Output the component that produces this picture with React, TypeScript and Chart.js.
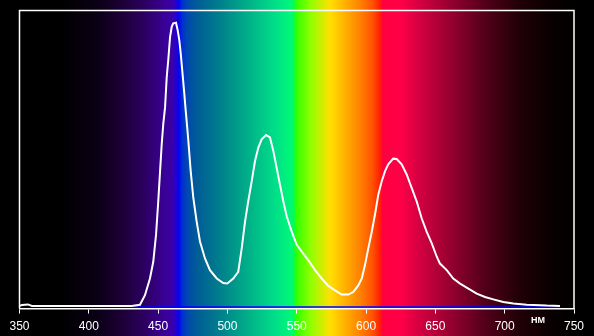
import React, { useEffect, useRef } from "react";
import { Chart, registerables } from "chart.js";

Chart.register(...registerables);

// Wavelength (nm) and relative intensity of the white spectral curve
const WAVELENGTHS = [
  350, 351.8, 356.1, 359, 430.9, 436.9, 440.5, 444.1, 446.5, 448.5, 450.1, 451.4, 452.6, 453.7, 455.0,
  456.2, 457.3, 458.6, 459.8, 460.9, 462.9, 464.1, 465.3, 466.3, 467.4, 468.7, 469.9, 471.0, 471.8,
  473.5, 475.4, 477.8, 480.2, 483.8, 487.4, 492.3, 497.0, 499.9, 504.2, 507.8, 510.3, 512.7, 515.0,
  517.5, 519.9, 522.3, 524.7, 527.8, 530.7, 533.1, 535.5, 537.9, 540.3, 542.8, 546.4, 550.0, 553.6,
  558.3, 563.2, 568.0, 572.8, 577.6, 582.4, 587.2, 590.8, 594.4, 596.9, 599.2, 601.6, 604.1, 606.4,
  608.8, 611.3, 613.7, 616.0, 619.6, 622.1, 625.7, 629.3, 632.9, 636.5, 640.1, 643.7, 647.4, 651.0,
  653.3, 658.2, 662.9, 667.8, 673.8, 679.8, 685.8, 691.8, 699.0, 706.2, 715.9, 730.3, 739.9,
];
const INTENSITY = [
  0.009, 0.012, 0.014, 0.009, 0.009, 0.013, 0.045, 0.101, 0.157, 0.248, 0.36, 0.461, 0.552, 0.619, 0.675,
  0.776, 0.833, 0.911, 0.945, 0.957, 0.959, 0.934, 0.9, 0.856, 0.799, 0.731, 0.664, 0.607, 0.563,
  0.461, 0.371, 0.292, 0.225, 0.168, 0.129, 0.101, 0.086, 0.084, 0.101, 0.123, 0.202, 0.292, 0.36,
  0.427, 0.495, 0.54, 0.568, 0.582, 0.574, 0.529, 0.472, 0.416, 0.36, 0.309, 0.258, 0.214, 0.191,
  0.163, 0.129, 0.101, 0.076, 0.061, 0.047, 0.047, 0.056, 0.078, 0.101, 0.146, 0.202, 0.258, 0.315,
  0.382, 0.427, 0.461, 0.484, 0.503, 0.502, 0.484, 0.45, 0.405, 0.36, 0.303, 0.258, 0.219, 0.174,
  0.151, 0.129, 0.101, 0.084, 0.067, 0.05, 0.039, 0.031, 0.022, 0.017, 0.013, 0.01, 0.009,
];

// Blue baseline series
const BASELINE_NM = [433, 740];
const BASELINE_VALUES = [0.005, 0.005];

// Axis
const X_MIN = 350;
const X_MAX = 750;
const X_STEP = 50;
const UNIT_LABEL = "НМ";
const UNIT_LABEL_NM = 724;

// Background spectrum (wavelength -> colour)
const SPECTRUM_NM = [
  336, 380, 405, 425, 440, 452, 460, 463.5, 465, 467.5, 471, 477, 495, 515, 535, 546, 548, 549.5, 560,
  574, 585, 596, 605, 610, 612, 625, 640, 663, 687, 711, 735, 755,
];
const SPECTRUM_COLORS = [
  "#000000", "#000000", "#0a0014", "#1e0038", "#2c0060", "#38008c", "#3c00a8", "#2000d8", "#0008f0",
  "#0030d0", "#0048b0", "#005a98", "#00808c", "#00b088", "#00e088", "#00f878", "#00ff50", "#30ff00",
  "#90ff00", "#ffe000", "#ffb000", "#ff8000", "#ff5000", "#ff2000", "#ff0040", "#ff0048", "#d00040",
  "#900030", "#500018", "#200008", "#080000", "#000000",
];

const spectrumPlugin = {
  id: "spectrumBg",
  beforeDraw(chart: any) {
    const { ctx, width, height } = chart;
    const xs = chart.scales.x;
    const g = ctx.createLinearGradient(0, 0, width, 0);
    SPECTRUM_NM.forEach((nm, i) => {
      const f = Math.min(1, Math.max(0, xs.getPixelForValue(nm) / width));
      g.addColorStop(f, SPECTRUM_COLORS[i]);
    });
    ctx.save();
    ctx.fillStyle = g;
    ctx.fillRect(0, 0, width, height);
    ctx.restore();
  },
  afterDraw(chart: any) {
    const { ctx, chartArea } = chart;
    const xs = chart.scales.x;
    ctx.save();
    ctx.strokeStyle = "#ffffff";
    ctx.lineWidth = 1.5;
    ctx.beginPath();
    ctx.moveTo(chartArea.left, chartArea.bottom);
    ctx.lineTo(chartArea.left, chartArea.top);
    ctx.lineTo(chartArea.right, chartArea.top);
    ctx.lineTo(chartArea.right, chartArea.bottom);
    ctx.stroke();
    ctx.fillStyle = "#ffffff";
    ctx.font = "bold 9px 'Liberation Sans', Arial, sans-serif";
    ctx.textAlign = "center";
    ctx.textBaseline = "alphabetic";
    ctx.fillText(UNIT_LABEL, xs.getPixelForValue(UNIT_LABEL_NM), 322.5);
    ctx.restore();
  },
};

export default function App() {
  const ref = useRef<HTMLCanvasElement>(null);
  useEffect(() => {
    if (!ref.current) return;
    const chart = new Chart(ref.current, {
      type: "line",
      data: {
        datasets: [
          {
            data: WAVELENGTHS.map((x, i) => ({ x, y: INTENSITY[i] })),
            borderColor: "#ffffff",
            borderWidth: 2,
            pointRadius: 0,
            tension: 0,
            fill: false,
          },
          {
            data: BASELINE_NM.map((x, i) => ({ x, y: BASELINE_VALUES[i] })),
            borderColor: "#0000ff",
            borderWidth: 1.5,
            pointRadius: 0,
            fill: false,
          },
        ],
      },
      options: {
        animation: false,
        responsive: false,
        maintainAspectRatio: false,
        layout: { padding: { left: 19.5, right: 20, top: 10.5, bottom: -4 } },
        plugins: { legend: { display: false }, tooltip: { enabled: false } },
        scales: {
          x: {
            type: "linear",
            min: X_MIN,
            max: X_MAX,
            ticks: {
              stepSize: X_STEP,
              color: "#ffffff",
              font: { family: "'Liberation Sans', Arial, sans-serif", size: 12 },
              padding: 6,
              maxRotation: 0,
            },
            grid: { display: true, drawOnChartArea: false, drawTicks: true, tickLength: 5, color: "#ffffff", lineWidth: 1 },
            border: { display: true, color: "#ffffff", width: 1.5 },
          },
          y: { display: false, min: 0, max: 1 },
        },
      },
      plugins: [spectrumPlugin],
    });
    return () => chart.destroy();
  }, []);
  return (
    <div style={{ position: "fixed", left: 0, top: 0, width: 594, height: 336, background: "#000" }}>
      <canvas ref={ref} width={594} height={336} style={{ width: 594, height: 336, display: "block" }} />
    </div>
  );
}
